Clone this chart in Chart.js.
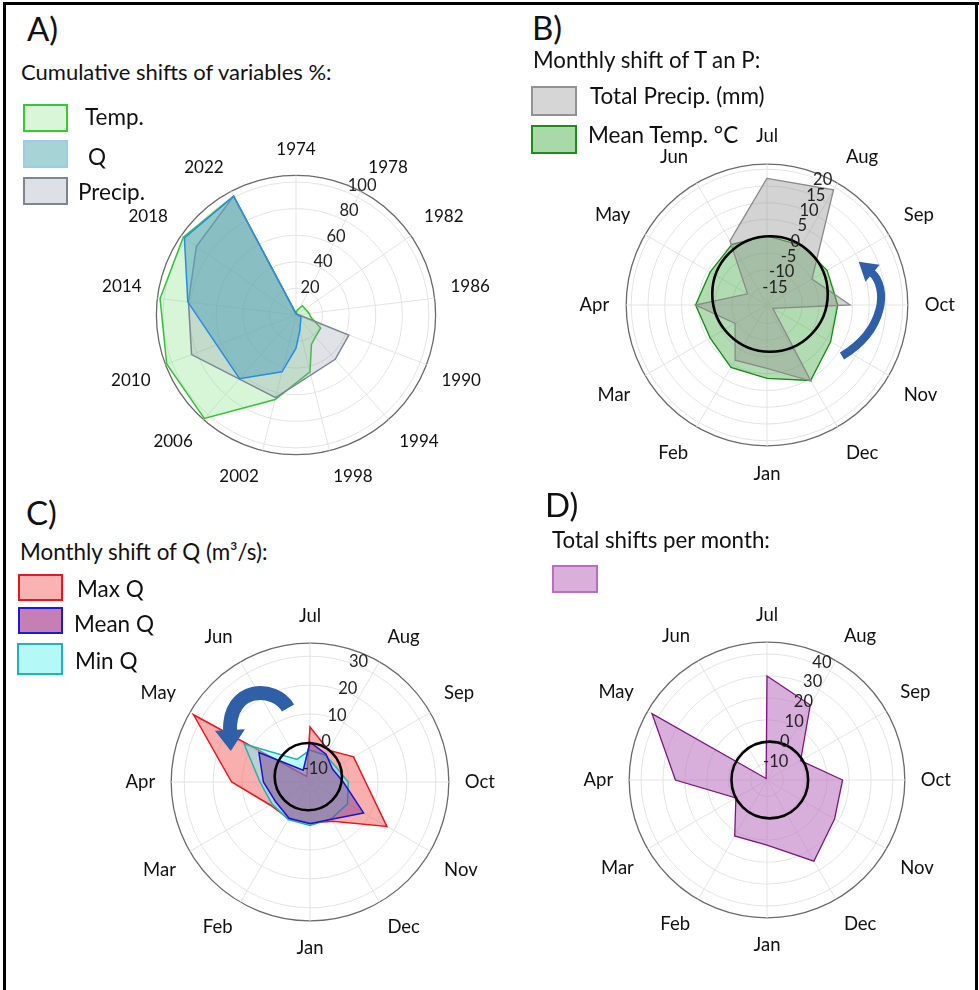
<!DOCTYPE html>
<html><head><meta charset="utf-8">
<script src="https://cdn.jsdelivr.net/npm/chart.js@4.4.1/dist/chart.umd.min.js"></script>
<style>
html,body{margin:0;padding:0;background:#fff;overflow:hidden;width:979px;height:990px;}
#page{position:relative;width:979px;height:990px;overflow:hidden;font-family:Lato,sans-serif;color:#111;}
.t{position:absolute;white-space:nowrap;line-height:1.2;}
.box{position:absolute;box-sizing:border-box;border:2.5px solid;}
canvas{position:absolute;}
.frame{position:absolute;background:#000;}
</style></head><body><div id="page">
<div class="frame" style="left:3px;top:2px;width:976px;height:3px"></div>
<div class="frame" style="left:3px;top:2px;width:3px;height:988px"></div>
<div class="frame" style="left:975px;top:2px;width:3px;height:988px"></div>

<canvas id="cA" width="460" height="352" style="left:67px;top:139px"></canvas>
<canvas id="cB" width="460" height="360" style="left:537px;top:125px"></canvas>
<canvas id="cC" width="460" height="354" style="left:80px;top:605px"></canvas>
<canvas id="cD" width="460" height="352" style="left:537px;top:604px"></canvas>

<div class="t" style="left:27px;top:9px;font-size:33px">A)</div>
<div class="t" style="left:21px;top:59px;font-size:22px">Cumulative shifts of variables %:</div>
<div class="box" style="left:23px;top:104px;width:45px;height:28px;border-color:#35c935;background:#d9f6d9"></div>
<div class="t" style="left:85px;top:103px;font-size:22.5px">Temp.</div>
<div class="box" style="left:23px;top:140px;width:45px;height:28px;border-color:#9ccbee;background:#a6d3d6"></div>
<div class="t" style="left:88px;top:143px;font-size:22.5px">Q</div>
<div class="box" style="left:23px;top:177px;width:45px;height:28px;border-color:#7d8696;background:#dde0e5"></div>
<div class="t" style="left:78px;top:178px;font-size:22.5px">Precip.</div>

<div class="t" style="left:532px;top:8px;font-size:33px">B)</div>
<div class="t" style="left:533px;top:47px;font-size:22.3px">Monthly shift of T an P:</div>
<div class="box" style="left:531px;top:86px;width:46px;height:30px;border-color:#929292;background:#d6d6d6"></div>
<div class="t" style="left:590px;top:82px;font-size:22.5px">Total Precip. (mm)</div>
<div class="box" style="left:531px;top:125px;width:46px;height:29px;border-color:#1f8c1f;background:#a9d9a9"></div>
<div class="t" style="left:588px;top:121px;font-size:22.5px">Mean Temp. °C</div>

<div class="t" style="left:26px;top:493px;font-size:33px">C)</div>
<div class="t" style="left:20px;top:539px;font-size:22.4px">Monthly shift of Q (m³/s):</div>
<div class="box" style="left:18px;top:574px;width:45px;height:27px;border-color:#e8161e;background:#f9b3b3"></div>
<div class="t" style="left:77px;top:575px;font-size:22.5px">Max Q</div>
<div class="box" style="left:18px;top:607px;width:45px;height:27px;border-color:#1a1ad8;background:#c47fb3"></div>
<div class="t" style="left:74px;top:610px;font-size:22.5px">Mean Q</div>
<div class="box" style="left:17px;top:643px;width:46px;height:32px;border-color:#22b4b4;background:#b4f8f8"></div>
<div class="t" style="left:75px;top:647px;font-size:22.5px">Min Q</div>

<div class="t" style="left:545px;top:485px;font-size:33px">D)</div>
<div class="t" style="left:552px;top:527px;font-size:22.3px">Total shifts per month:</div>
<div class="box" style="left:552px;top:565px;width:46px;height:28px;border-color:#b86fc0;background:#d8b0da"></div>
</div>
<script>
// ---------- categories ----------
const years = [1974,1975,1976,1977,1978,1979,1980,1981,1982,1983,1984,1985,1986,1987,1988,1989,
  1990,1991,1992,1993,1994,1995,1996,1997,1998,1999,2000,2001,2002,2003,2004,2005,2006,2007,2008,2009,
  2010,2011,2012,2013,2014,2015,2016,2017,2018,2019,2020,2021,2022,2023,2024,2025];
const months = ['Jul','Aug','Sep','Oct','Nov','Dec','Jan','Feb','Mar','Apr','May','Jun'];

// ---------- panel A: cumulative shifts (%) ; null = no vertex at that year ----------
const tempA = [1,null,4,null,null,8.5,null,null,null,null,null,null,10,null,11,null,
  null,21,null,null,22,null,25,null,44,null,null,null,65.5,null,null,null,104,null,null,null,
  104,null,null,null,103,null,null,null,103,null,null,null,101,null,null,null];
const qA = [1,null,null,null,null,null,null,null,null,null,null,null,null,null,null,null,
  4,null,null,null,null,null,null,null,12,null,25,null,44,null,null,null,64,null,null,null,
  null,null,null,null,82,null,null,null,102,null,null,null,101,null,null,null];
const precipA = [1,null,null,null,null,null,null,null,null,null,null,null,2,null,null,null,
  42.5,null,null,null,44.5,null,null,null,null,null,null,null,64,null,null,null,null,null,null,null,
  84,null,null,null,81.5,null,null,null,91,null,null,null,101,null,null,null];
const ticksA = [20,40,60,80,100];

// ---------- panel B: monthly shift of T and P ----------
const precipB = [17.3,19.2,-5.0,4.3,-18.5,5.7,-1.6,-1.5,-9.5,0.8,-13.8,1.6];
const tempB   = [0.1,0.0,0.2,0.6,1.4,5.5,1.4,1.0,-0.9,0.8,-0.9,0.4];
const ticksB = [-15,-10,-5,0,5,10,15,20];

// ---------- panel C: monthly shift of Q ----------
const maxQ  = [5.5,-0.8,3.9,5.7,17.2,2.2,0.7,1.2,2.4,13.6,33.0,-11.3];
const meanQ = [0.3,-2.4,-4.5,-2.0,7.9,1.4,0.9,1.0,0.2,2.6,6.9,-8.8];
const minQ  = [-2.5,-2.8,-3.1,-0.3,1.5,1.2,1.5,1.5,1.7,3.8,12.8,-4.5];
const ticksC = [-10,0,10,20,30];

// ---------- panel D: total shifts per month ----------
const totalD = [30.0,22.0,0.2,17.0,18.1,25.3,12.2,12.0,-1.1,24.3,43.1,-16.7];
const ticksD = [-10,0,10,20,30,40];

// ---------- helpers ----------
function arrowPath(ctx, cx, cy, a) {
  const P = p => [cx + p[0], cy + p[1]];
  const p0 = P(a.p0), c1 = P(a.c1), c2 = P(a.c2), p3 = P(a.p3);
  ctx.save();
  ctx.strokeStyle = a.color; ctx.fillStyle = a.color; ctx.lineWidth = a.w; ctx.lineCap = 'butt';
  ctx.beginPath(); ctx.moveTo(p0[0], p0[1]); ctx.bezierCurveTo(c1[0], c1[1], c2[0], c2[1], p3[0], p3[1]); ctx.stroke();
  let dx = p3[0] - c2[0], dy = p3[1] - c2[1]; const L = Math.hypot(dx, dy); dx /= L; dy /= L;
  const tip = [p3[0] + dx * a.head, p3[1] + dy * a.head];
  const bx = p3[0] - dx * 2, by = p3[1] - dy * 2;
  ctx.beginPath();
  ctx.moveTo(tip[0], tip[1]);
  ctx.lineTo(bx - dy * a.hw, by + dx * a.hw);
  ctx.lineTo(bx + dy * a.hw, by - dx * a.hw);
  ctx.closePath(); ctx.fill();
  ctx.restore();
}
function decor(cfg) {
  return {
    id: 'decor',
    afterDatasetsDraw(chart) {
      const s = chart.scales.r, ctx = chart.ctx, cx = s.xCenter, cy = s.yCenter;
      ctx.save();
      if (cfg.ring) {
        const r0 = s.getDistanceFromCenterForValue(0);
        ctx.beginPath();
        ctx.arc(cx + cfg.ring.dx, cy + cfg.ring.dy, r0 + cfg.ring.dy, 0, Math.PI * 2);
        ctx.lineWidth = 2.6; ctx.strokeStyle = '#000'; ctx.stroke();
      }
      ctx.font = '16.5px Lato'; ctx.fillStyle = '#222'; ctx.textAlign = 'center'; ctx.textBaseline = 'middle';
      const th = cfg.tickAngle * Math.PI / 180;
      cfg.tickLabels.forEach(v => {
        const r = s.getDistanceFromCenterForValue(v) * cfg.k + cfg.off;
        ctx.fillText(String(v), cx + r * Math.sin(th), cy - r * Math.cos(th));
      });
      if (cfg.arrow) arrowPath(ctx, cx, cy, cfg.arrow);
      ctx.restore();
    }
  };
}
function makeRadar(id, labels, datasets, cfg) {
  return new Chart(document.getElementById(id), {
    type: 'radar',
    data: { labels: labels, datasets: datasets },
    options: {
      responsive: false, animation: false, devicePixelRatio: 1,
      plugins: { legend: { display: false }, tooltip: { enabled: false } },
      elements: { point: { radius: 0, hoverRadius: 0 }, line: { tension: 0 } },
      scales: { r: {
        min: cfg.min, max: cfg.max,
        afterBuildTicks: s => { s.ticks = [cfg.min].concat(cfg.grid, [cfg.max]).map(v => ({ value: v })); },
        ticks: { display: false },
        grid: { circular: true,
          color: c => (c.tick && c.tick.value === cfg.max) ? '#6a6a6a' : '#e3e3e3',
          lineWidth: c => (c.tick && c.tick.value === cfg.max) ? 1.3 : 1 },
        angleLines: { display: true, lineWidth: 1,
          color: c => (c.index % cfg.spokeEvery === 0) ? '#e3e3e3' : 'rgba(0,0,0,0)' },
        pointLabels: { display: true, padding: cfg.pad, color: '#111',
          font: { family: 'Lato', size: cfg.labelSize },
          callback: cfg.labelCb || (l => l) }
      } }
    },
    plugins: [decor(cfg)]
  });
}
function ds(label, data, border, fill, w) {
  return { label: label, data: data, borderColor: border, backgroundColor: fill, borderWidth: w, fill: 'start', spanGaps: true };
}

// ---------- A ----------
makeRadar('cA', years, [
  ds('Q', qA, '#2a8be0', 'rgba(90,165,190,0.55)', 1.5),
  ds('Precip.', precipA, '#7c8696', 'rgba(140,150,170,0.28)', 1.5),
  ds('Temp.', tempA, '#36c236', 'rgba(130,225,130,0.32)', 1.5)
], { min: 0, max: 105, grid: ticksA, spokeEvery: 4, pad: 16, labelSize: 17,
     labelCb: (l, i) => (i % 4 === 0 ? String(l) : ''),
     tickLabels: ticksA, tickAngle: 27, k: 1.08, off: 2 });

// ---------- B ----------
makeRadar('cB', months, [
  ds('Total Precip. (mm)', precipB, '#8a8a8a', 'rgba(150,150,150,0.42)', 1.3),
  ds('Mean Temp. °C', tempB, '#158a15', 'rgba(70,170,70,0.42)', 1.3)
], { min: -20.5, max: 21.5, grid: ticksB, spokeEvery: 1, pad: 17, labelSize: 18.5,
     tickLabels: ticksB, tickAngle: 24, k: 1, off: 1, ring: { dx: 3, dy: -11 },
     arrow: { p0: [75, 51], c1: [118, 25], c2: [122, -18], p3: [104, -33], w: 8, head: 16, hw: 11, color: '#2e5fa8' } });

// ---------- C ----------
makeRadar('cC', months, [
  ds('Mean Q', meanQ, '#1515d5', 'rgba(120,50,140,0.45)', 1.5),
  ds('Min Q', minQ, '#1fb3b3', 'rgba(110,250,250,0.45)', 1.5),
  ds('Max Q', maxQ, '#e8161e', 'rgba(245,110,110,0.55)', 1.5)
], { min: -13.5, max: 34.5, grid: ticksC, spokeEvery: 1, pad: 16, labelSize: 18.5,
     tickLabels: ticksC, tickAngle: 22, k: 1, off: 4, ring: { dx: -1.7, dy: -5.4 },
     arrow: { p0: [-22, -74], c1: [-35, -97], c2: [-82, -97], p3: [-80, -50], w: 14, head: 19, hw: 15, color: '#2f5fa7' } });

// ---------- D ----------
makeRadar('cD', months, [
  ds('Total shifts', totalD, '#7d1580', 'rgba(190,120,195,0.6)', 1.3)
], { min: -17.5, max: 45.4, grid: ticksD, spokeEvery: 1, pad: 16, labelSize: 18.5,
     tickLabels: ticksD, tickAngle: 25, k: 1, off: 4, ring: { dx: 2.8, dy: 0 } });
</script>
</body></html>
